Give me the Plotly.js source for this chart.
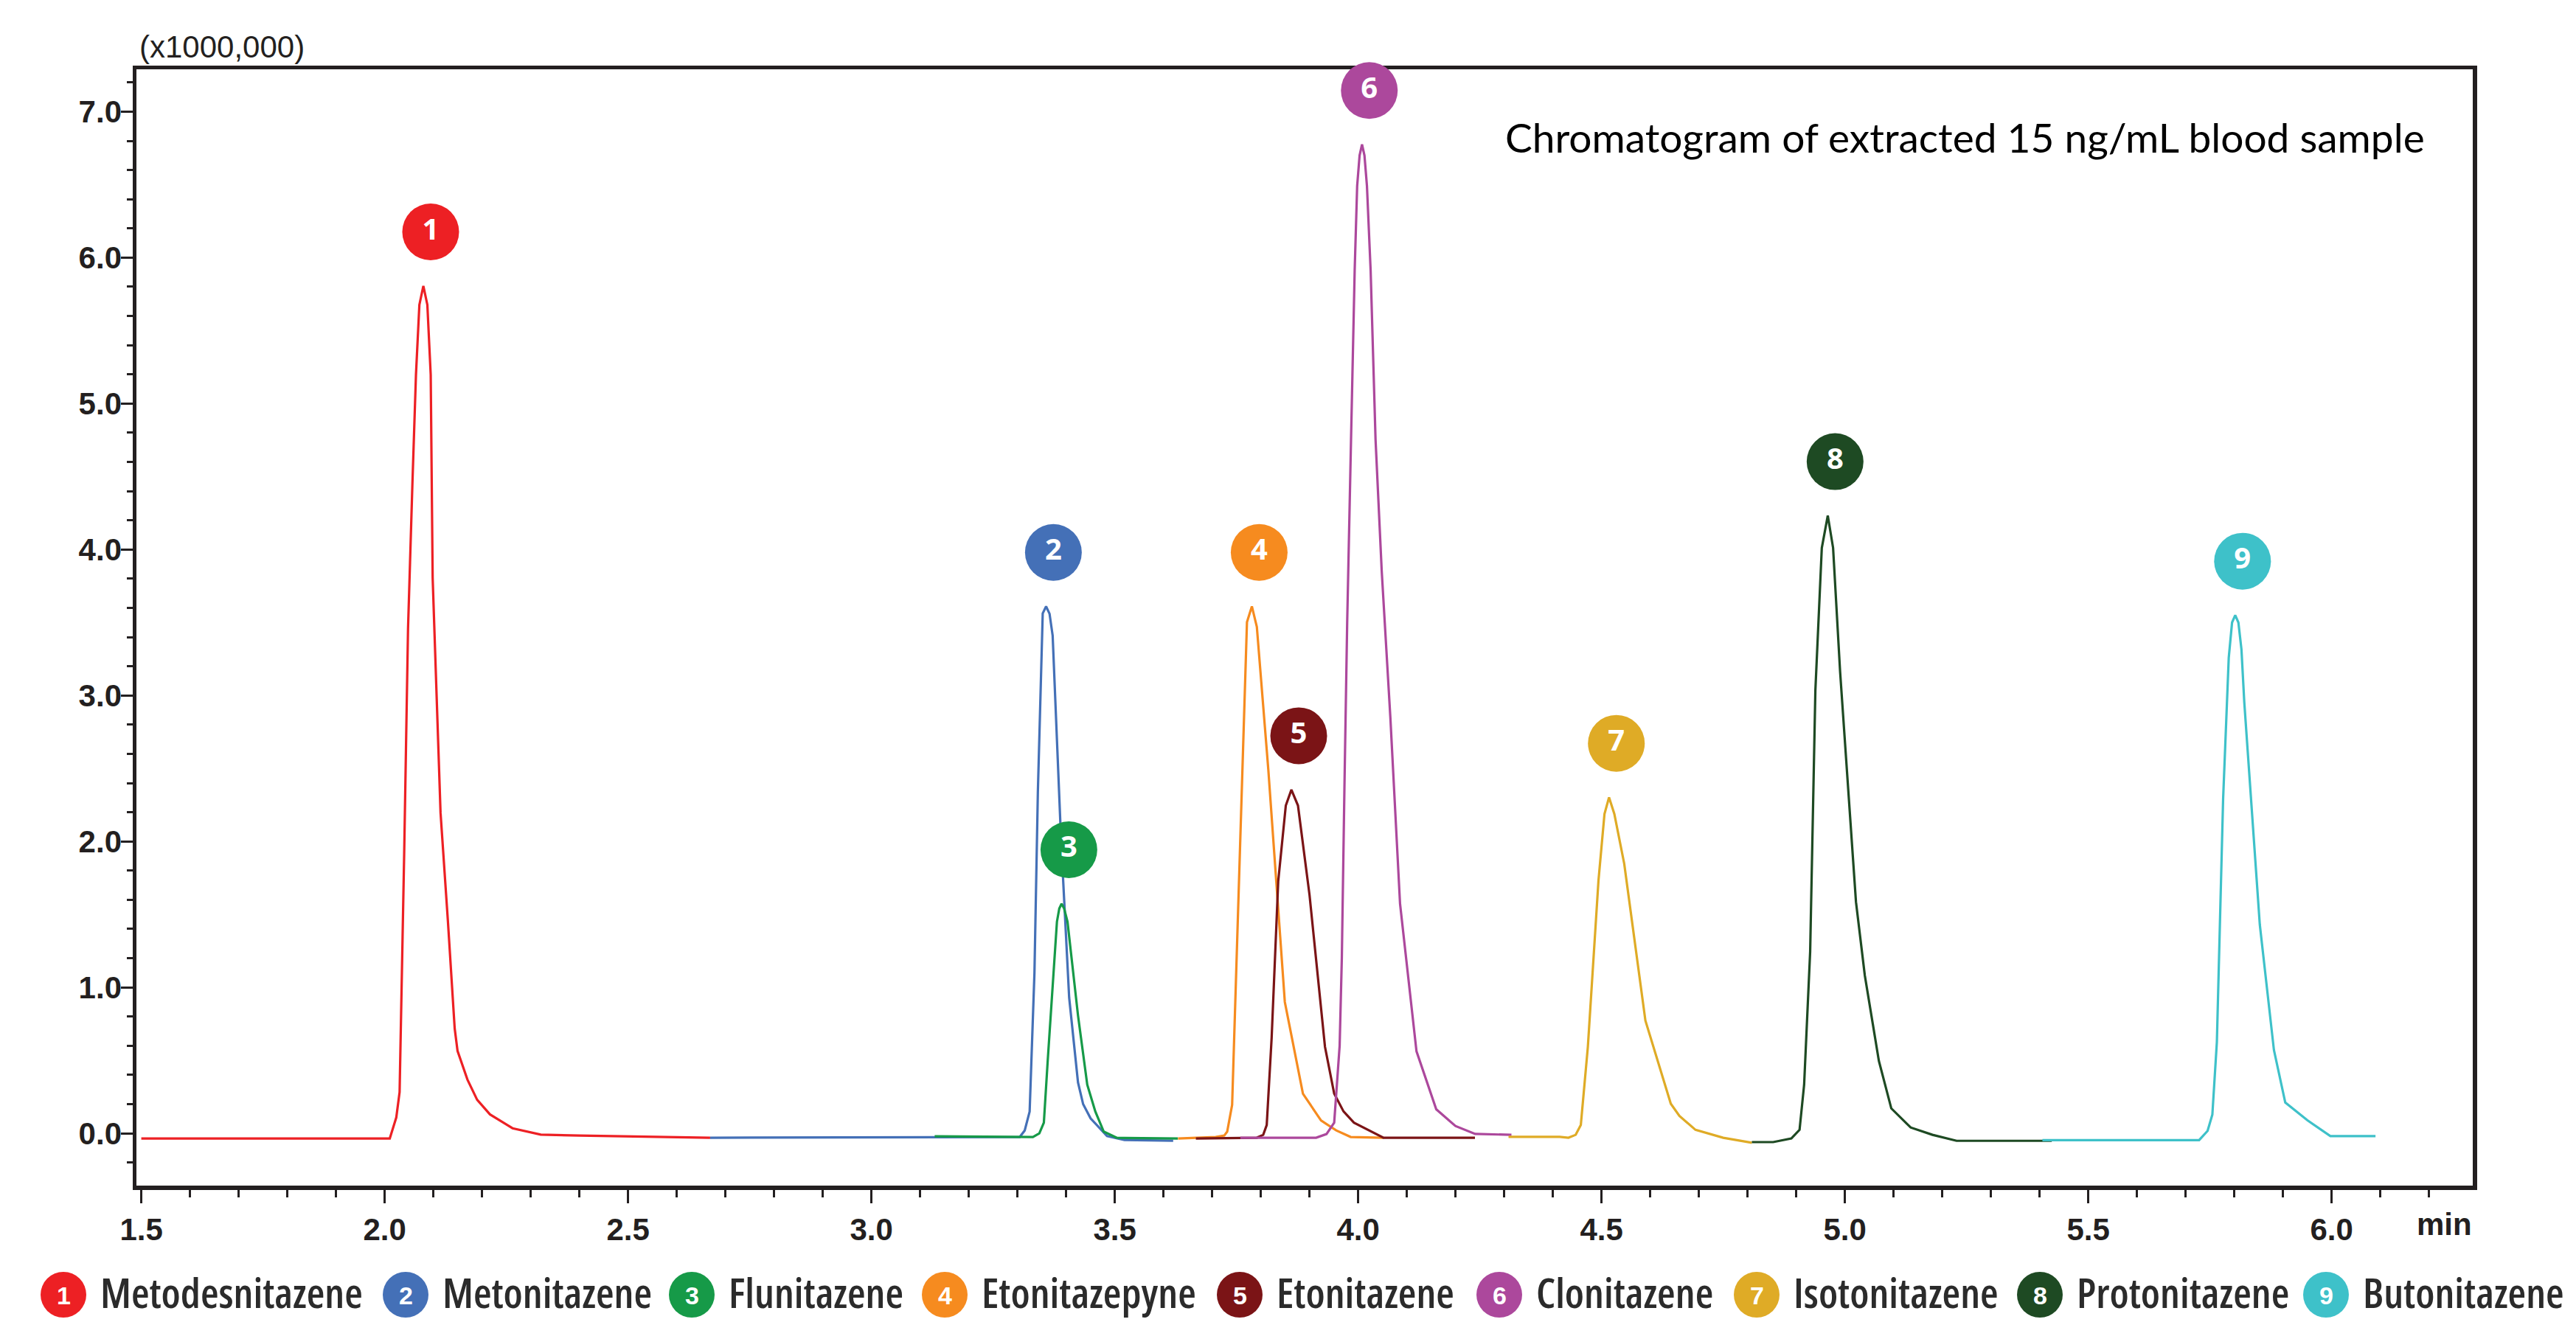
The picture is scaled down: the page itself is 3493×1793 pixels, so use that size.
<!DOCTYPE html>
<html>
<head>
<meta charset="utf-8">
<script src="https://cdn.plot.ly/plotly-3.0.1.min.js"></script>
<style>
html,body{margin:0;padding:0;background:#ffffff;}
#chart{width:3493px;height:1793px;}
.annotation-text{font-stretch:75%;}
</style>
</head>
<body>
<div id="chart"></div>
<script>
// ---------------- DATA ----------------
const compounds = ['Metodesnitazene','Metonitazene','Flunitazene','Etonitazepyne','Etonitazene','Clonitazene','Isotonitazene','Protonitazene','Butonitazene'];
const peakNumbers = ['1','2','3','4','5','6','7','8','9'];

// retention time (min) / intensity (x1,000,000)
const time1 = [1.50, 2.005, 2.0105, 2.0239, 2.0307, 2.040, 2.048, 2.057, 2.0643, 2.0713, 2.0795, 2.0877, 2.0946, 2.0986, 2.107, 2.1148, 2.130, 2.1439, 2.1497, 2.170, 2.190, 2.2163, 2.2627, 2.3207, 2.40, 2.50, 2.60, 2.6687];
const intensity1 = [-0.035, -0.035, -0.035, 0.109, 0.283, 1.90, 3.457, 4.45, 5.197, 5.676, 5.806, 5.676, 5.197, 3.805, 2.95, 2.196, 1.45, 0.718, 0.565, 0.369, 0.23, 0.130, 0.035, -0.009, -0.015, -0.020, -0.026, -0.030];

const time2 = [2.6687, 3.00, 3.3048, 3.315, 3.3251, 3.335, 3.342, 3.352, 3.3589, 3.366, 3.3724, 3.3894, 3.4063, 3.4245, 3.435, 3.4503, 3.4841, 3.52, 3.62];
const intensity2 = [-0.030, -0.028, -0.025, 0.02, 0.149, 1.10, 2.338, 3.563, 3.61, 3.56, 3.41, 2.032, 0.930, 0.348, 0.20, 0.103, -0.019, -0.045, -0.050];

const time3 = [3.13, 3.3318, 3.345, 3.3543, 3.3623, 3.3812, 3.386, 3.3907, 3.396, 3.4029, 3.4245, 3.4435, 3.46, 3.4773, 3.5044, 3.6296];
const intensity3 = [-0.020, -0.025, 0.0, 0.073, 0.501, 1.45, 1.54, 1.573, 1.54, 1.45, 0.807, 0.333, 0.15, 0.012, -0.031, -0.035];

const time4 = [3.63, 3.7073, 3.725, 3.7310, 3.7411, 3.7614, 3.7716, 3.7817, 3.7919, 3.8155, 3.8494, 3.8866, 3.9237, 3.955, 3.9847, 4.0523];
const intensity4 = [-0.035, -0.025, -0.015, 0.012, 0.195, 2.338, 3.502, 3.61, 3.47, 2.491, 0.900, 0.272, 0.088, 0.02, -0.025, -0.030];

const time5 = [3.6667, 3.7919, 3.805, 3.8122, 3.8223, 3.8358, 3.8514, 3.8629, 3.8764, 3.9001, 3.9319, 3.9508, 3.97, 3.9914, 4.0523, 4.24];
const intensity5 = [-0.035, -0.030, -0.010, 0.057, 0.654, 1.726, 2.246, 2.354, 2.246, 1.634, 0.593, 0.272, 0.15, 0.073, -0.030, -0.030];

const time6 = [3.758, 3.9137, 3.935, 3.9508, 3.962, 3.9665, 3.972, 3.9775, 3.9854, 3.9929, 3.998, 4.003, 4.008, 4.013, 4.0181, 4.0257, 4.0358, 4.0485, 4.0662, 4.0861, 4.1199, 4.1605, 4.20, 4.2404, 4.315];
const intensity6 = [-0.030, -0.030, -0.005, 0.073, 0.60, 1.20, 2.40, 3.50, 4.751, 5.911, 6.491, 6.70, 6.775, 6.70, 6.491, 5.911, 4.751, 3.85, 2.85, 1.573, 0.562, 0.165, 0.05, -0.004, -0.010];

const time7 = [4.309, 4.414, 4.4321, 4.447, 4.4575, 4.472, 4.4938, 4.5061, 4.5155, 4.5264, 4.5467, 4.5902, 4.6424, 4.66, 4.6931, 4.75, 4.809];
const intensity7 = [-0.024, -0.024, -0.030, -0.010, 0.057, 0.594, 1.733, 2.188, 2.302, 2.188, 1.847, 0.773, 0.203, 0.12, 0.024, -0.030, -0.064];

const time8 = [4.809, 4.8527, 4.89, 4.9069, 4.9163, 4.9287, 4.9394, 4.9526, 4.9649, 4.9758, 4.9902, 5.0228, 5.041, 5.0699, 5.0954, 5.1352, 5.18, 5.2295, 5.4251];
const intensity8 = [-0.060, -0.060, -0.035, 0.024, 0.333, 1.245, 3.034, 4.011, 4.232, 4.011, 3.164, 1.586, 1.082, 0.496, 0.171, 0.040, -0.010, -0.051, -0.051];

const time9 = [5.4059, 5.7278, 5.7452, 5.755, 5.7643, 5.7771, 5.7887, 5.7955, 5.802, 5.8085, 5.8148, 5.8206, 5.8525, 5.8815, 5.9048, 5.95, 5.9975, 6.0902];
const intensity9 = [-0.047, -0.047, 0.017, 0.128, 0.626, 2.289, 3.259, 3.50, 3.55, 3.50, 3.315, 2.954, 1.430, 0.571, 0.211, 0.09, -0.019, -0.019];

const xTickValues = [1.5, 2.0, 2.5, 3.0, 3.5, 4.0, 4.5, 5.0, 5.5, 6.0];
const yTickValues = [0, 1, 2, 3, 4, 5, 6, 7];

// ---------------- STYLE / LAYOUT ----------------
const colors = ['#ED2024','#4470B7','#169A48','#F68B1F','#7B1416','#AC489C','#DFAB26','#1E4A23','#3EC1C9'];
const times = [time1,time2,time3,time4,time5,time6,time7,time8,time9];
const intensities = [intensity1,intensity2,intensity3,intensity4,intensity5,intensity6,intensity7,intensity8,intensity9];

const W = 3493, H = 1793;
const plotL = 185, plotR = 3353, plotT = 94, plotB = 1608;
const px2x = px => (px - plotL) / (plotR - plotL);
const py2y = py => (plotB - py) / (plotB - plotT);

const ink = '#231F20';
const sans = 'Liberation Sans, Arial, sans-serif';
const legendFamily = 'Open Sans, Noto Sans, Liberation Sans, sans-serif';
const legendFontSize = 58;
const legendRefWidth = 356;   // width of the first legend name in the reference (px)
const yLabelRight = 165;      // right edge of the y tick labels in the reference (px)

const traces = [];
for (let i = 0; i < times.length; i++) {
  traces.push({
    x: times[i], y: intensities[i], type: 'scatter', mode: 'lines',
    line: {color: colors[i], width: 3.2}, hoverinfo: 'skip', showlegend: false,
    name: compounds[i]
  });
}

// peak labels placed above each apex
const labelX = [], labelY = [];
for (let i = 0; i < times.length; i++) {
  let k = 0;
  intensities[i].forEach((v, j) => { if (v > intensities[i][k]) k = j; });
  labelX.push(times[i][k] + 0.015);
  labelY.push(intensities[i][k] + 0.37);
}
traces.push({
  x: labelX, y: labelY, type: 'scatter', mode: 'markers+text',
  marker: {size: 77, color: colors, line: {width: 0}},
  text: peakNumbers, textposition: 'middle center',
  textfont: {family: 'Noto Sans, sans-serif', size: 40, color: '#ffffff', weight: 'bold'},
  cliponaxis: false, hoverinfo: 'skip', showlegend: false
});

// custom legend (numbered circles + names) below the axis
const legendCircleX = [86, 550, 938, 1281, 1681, 2033, 2382, 2766, 3154];
const legendY = 1756;
const shapes = [], annotations = [], legendNameIdx = [];
for (let i = 0; i < compounds.length; i++) {
  shapes.push({
    type: 'circle', xref: 'paper', yref: 'paper',
    xsizemode: 'pixel', ysizemode: 'pixel',
    xanchor: px2x(legendCircleX[i]), yanchor: py2y(legendY),
    x0: -31, x1: 31, y0: -31, y1: 31,
    fillcolor: colors[i], line: {width: 0}, layer: 'above'
  });
  annotations.push({
    xref: 'paper', yref: 'paper', x: px2x(legendCircleX[i]), y: py2y(legendY + 1),
    xanchor: 'center', yanchor: 'middle', showarrow: false, text: peakNumbers[i],
    font: {family: sans, size: 34, color: '#ffffff', weight: 'bold'}
  });
  legendNameIdx.push(annotations.length);
  annotations.push({
    xref: 'paper', yref: 'paper', x: px2x(legendCircleX[i] + 48), y: py2y(legendY),
    xanchor: 'left', yanchor: 'middle', showarrow: false, text: compounds[i],
    font: {family: legendFamily, size: legendFontSize, color: '#2B2B2B', weight: 600}
  });
}
annotations.push({
  xref: 'paper', yref: 'paper', x: px2x(187), y: py2y(63),
  xanchor: 'left', yanchor: 'middle', showarrow: false, text: '(x1000,000)',
  font: {family: sans, size: 42, color: ink}
});
annotations.push({
  xref: 'paper', yref: 'paper', x: px2x(3314), y: py2y(1660),
  xanchor: 'center', yanchor: 'middle', showarrow: false, text: 'min',
  font: {family: sans, size: 42, color: ink, weight: 'bold'}
});
annotations.push({
  xref: 'paper', yref: 'paper', x: px2x(3290), y: py2y(186),
  xanchor: 'right', yanchor: 'middle', showarrow: false,
  text: 'Chromatogram of extracted 15 ng/mL blood sample',
  font: {family: 'Lato, Noto Sans, sans-serif', size: 55, color: '#000000'}
});

const layout = {
  width: W, height: H,
  margin: {l: plotL, r: W - plotR, t: plotT, b: H - plotB, pad: 0},
  paper_bgcolor: '#ffffff', plot_bgcolor: '#ffffff',
  showlegend: false,
  xaxis: {
    range: [1.49, 6.29], tickmode: 'array', tickvals: xTickValues,
    ticktext: xTickValues.map(v => v.toFixed(1)),
    ticks: 'outside', ticklen: 18, tickwidth: 3, tickcolor: ink,
    minor: {dtick: 0.1, tick0: 1.5, ticks: 'outside', ticklen: 10, tickwidth: 3, tickcolor: ink, showgrid: false},
    showline: true, linewidth: 5.5, linecolor: ink, mirror: true,
    showgrid: false, zeroline: false, layer: 'below traces',
    tickfont: {family: sans, size: 42, color: ink, weight: 'bold'}
  },
  yaxis: {
    range: [-0.358, 7.29], tickmode: 'array', tickvals: yTickValues,
    ticktext: yTickValues.map(v => v.toFixed(1)),
    ticks: 'outside', ticklen: 16, tickwidth: 3, tickcolor: ink,
    minor: {dtick: 0.2, tick0: 0, ticks: 'outside', ticklen: 8, tickwidth: 3, tickcolor: ink, showgrid: false},
    showline: true, linewidth: 5.5, linecolor: ink, mirror: true,
    showgrid: false, zeroline: false, layer: 'below traces',
    tickfont: {family: sans, size: 42, color: ink, weight: 'bold'}
  },
  shapes: shapes,
  annotations: annotations
};

// move the y tick labels closer to the axis (idempotent: measures current position)
function shiftYTicks(gd) {
  const labels = [...gd.querySelectorAll('g.ytick text')];
  if (!labels.length) return;
  const left0 = gd.getBoundingClientRect().left;
  const right = Math.max(...labels.map(t => t.getBoundingClientRect().right)) - left0;
  const dx = yLabelRight - right;
  if (Math.abs(dx) < 0.5) return;
  labels.forEach(t => {
    const cur = parseFloat(t.getAttribute('dx')) || 0;
    t.setAttribute('dx', (cur + dx).toFixed(2));
  });
}

function legendNames(gd) {
  return [...gd.querySelectorAll('.annotation-text')].filter(t => compounds.includes(t.textContent));
}

let fitted = false;
Plotly.newPlot('chart', traces, layout, {staticPlot: true, displayModeBar: false}).then(gd => {
  gd.on('plotly_afterplot', () => shiftYTicks(gd));
  shiftYTicks(gd);
  if (fitted) return;
  fitted = true;
  const names = legendNames(gd);
  if (!names.length) return;
  // 1) fit legend name size so the names occupy the same width as in the reference
  const w = names[0].getBBox().width;
  const f = w ? legendRefWidth / w : 1;
  const upd = {};
  legendNameIdx.forEach(idx => { upd['annotations[' + idx + '].font.size'] = +(legendFontSize * f).toFixed(1); });
  return Plotly.relayout(gd, upd).then(() => {
    // 2) keep the whole text box inside the picture
    const top0 = gd.getBoundingClientRect().top;
    const bottom = Math.max(...legendNames(gd).map(t => t.getBoundingClientRect().bottom)) - top0;
    const over = bottom - (H - 2);
    if (over > 0) {
      const upd2 = {};
      legendNameIdx.forEach(idx => { upd2['annotations[' + idx + '].y'] = py2y(legendY - over); });
      return Plotly.relayout(gd, upd2);
    }
  }).then(() => shiftYTicks(gd));
});
setTimeout(() => shiftYTicks(document.getElementById('chart')), 300);
setTimeout(() => shiftYTicks(document.getElementById('chart')), 1000);
</script>
</body>
</html>
